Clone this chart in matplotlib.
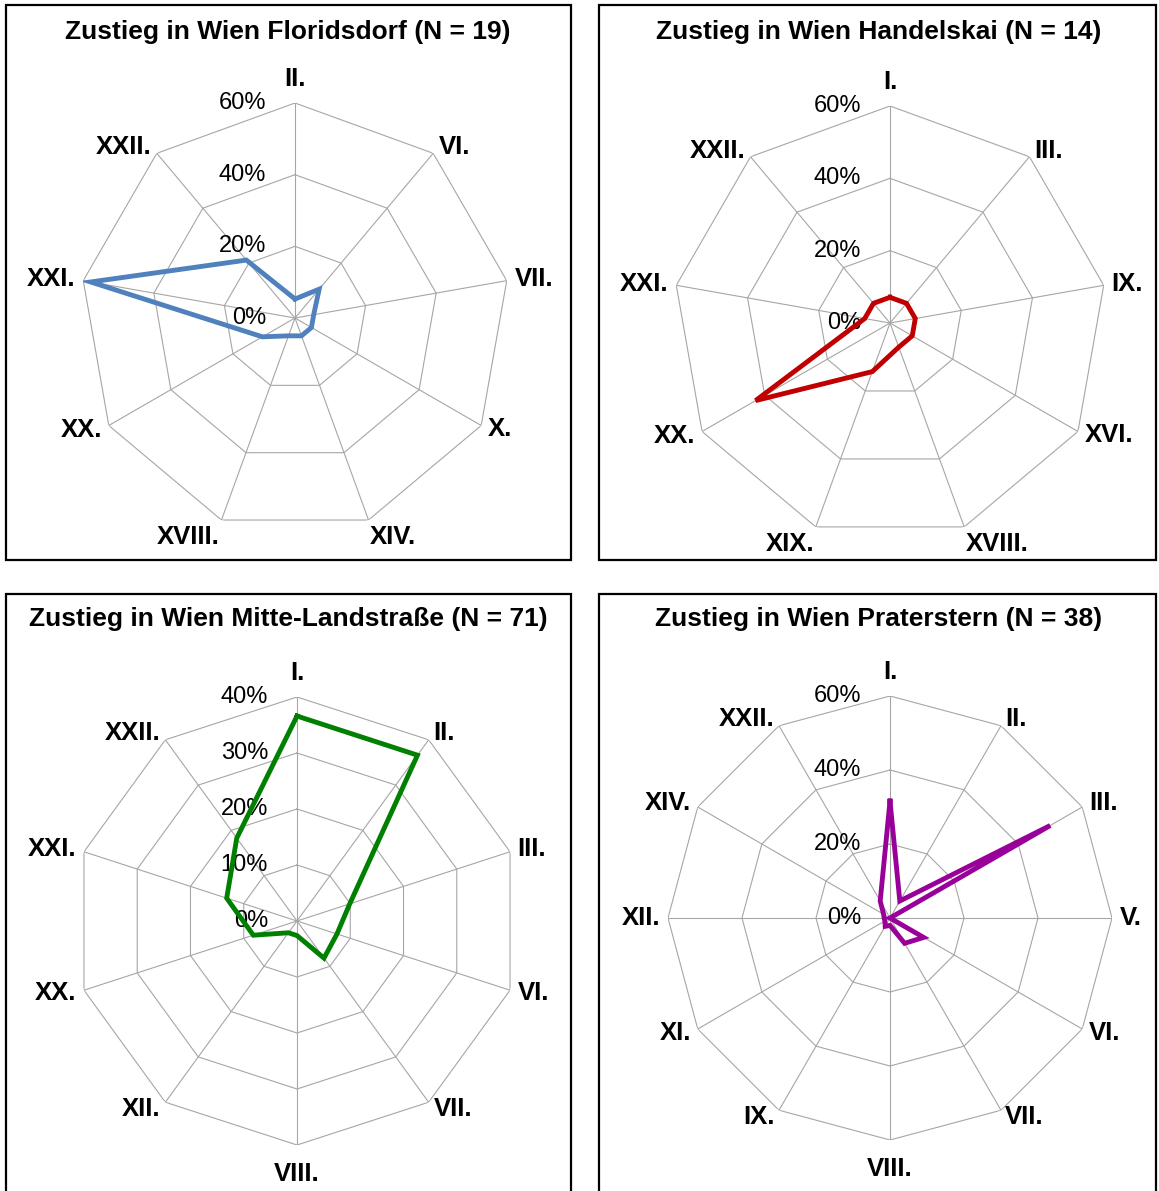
import numpy as np
import matplotlib
matplotlib.use("Agg")
import matplotlib.pyplot as plt
from matplotlib.patches import Rectangle

plt.rcParams["font.family"] = ["Liberation Sans", "DejaVu Sans"]

# ---- data (percent of respondents per district of residence) ----
floridsdorf_cats = ["II.", "VI.", "VII.", "X.", "XIV.", "XVIII.", "XX.", "XXI.", "XXII."]
floridsdorf_vals = [5.3, 10.5, 5.3, 5.3, 5.3, 5.3, 10.5, 57.9, 21.1]

handelskai_cats = ["I.", "III.", "IX.", "XVI.", "XVIII.", "XIX.", "XX.", "XXI.", "XXII."]
handelskai_vals = [7.1, 7.1, 7.1, 7.1, 7.1, 14.3, 42.9, 7.1, 7.1]

mitte_cats = ["I.", "II.", "III.", "VI.", "VII.", "VIII.", "XII.", "XX.", "XXI.", "XXII."]
mitte_vals = [36.6, 36.6, 9.9, 7.5, 8.2, 2.6, 2.6, 8.2, 13.2, 18.3]

prater_cats = ["I.", "II.", "III.", "V.", "VI.", "VII.", "VIII.", "IX.", "XI.", "XII.", "XIV.", "XXII."]
prater_vals = [31.6, 5.3, 50.0, 0.0, 10.5, 7.9, 2.0, 2.6, 1.6, 1.6, 2.0, 5.3]

ticks_60 = [0, 20, 40, 60]
ticks_40 = [0, 10, 20, 30, 40]

titles = [
    "Zustieg in Wien Floridsdorf (N = 19)",
    "Zustieg in Wien Handelskai (N = 14)",
    "Zustieg in Wien Mitte-Landstraße (N = 71)",
    "Zustieg in Wien Praterstern (N = 38)",
]

W, H = 1159, 1191
DPI = 100
PX = 72.0 / DPI  # points per pixel

fig = plt.figure(figsize=(W / DPI, H / DPI), dpi=DPI)
fig.patch.set_facecolor("white")

GRID = "#a6a6a6"


def box(x0, y0, x1, y1):
    fig.add_artist(Rectangle((x0 / W, 1 - y1 / H), (x1 - x0) / W, (y1 - y0) / H,
                             transform=fig.transFigure, fill=False,
                             edgecolor="black", linewidth=1.6))


def radar(cx, cy, R, cats, vals, ticks, color, title, title_xy):
    ax = fig.add_axes([(cx - R) / W, 1 - (cy + R) / H, 2 * R / W, 2 * R / H],
                      projection="polar")
    ax.set_theta_zero_location("N")
    ax.set_theta_direction(-1)
    ax.patch.set_alpha(0)
    ax.grid(False)
    ax.spines["polar"].set_visible(False)
    ax.set_xticks([])
    ax.set_yticks([])
    rmax = ticks[-1]
    ax.set_ylim(0, rmax)

    n = len(cats)
    ang = np.arange(n) * 2 * np.pi / n
    ang_c = np.append(ang, ang[0])

    # polygon rings and spokes
    for t in ticks[1:]:
        ax.plot(ang_c, [t] * (n + 1), color=GRID, lw=0.8, zorder=1)
    for a in ang:
        ax.plot([a, a], [0, rmax], color=GRID, lw=0.8, zorder=1)

    # data line
    v = list(vals) + [vals[0]]
    ax.plot(ang_c, v, color=color, lw=3.5, zorder=3, solid_joinstyle="miter")

    # radial value labels, left of the first spoke
    for t in ticks:
        ax.annotate(f"{t}%", xy=(0, t), xytext=(-29 * PX, 0),
                    textcoords="offset points", ha="right", va="center",
                    fontsize=17, annotation_clip=False, zorder=2)

    # category labels
    for a, c in zip(ang, cats):
        phi = np.pi / 2 - a
        co, si = np.cos(phi), np.sin(phi)
        if abs(co) < 0.05:
            ha = "center"
            va = "bottom" if si > 0 else "top"
            d = 12 if si > 0 else 17
        else:
            ha = "left" if co > 0 else "right"
            if abs(si) > 0.9:
                va = "bottom" if si > 0 else "top"
                d = 5
            else:
                va = "center"
                d = 8
        ax.annotate(c, xy=(a, rmax), xytext=(d * co * PX, d * si * PX),
                    textcoords="offset points", ha=ha, va=va,
                    fontsize=18.5, fontweight="bold", annotation_clip=False)

    fig.text(title_xy[0] / W, 1 - title_xy[1] / H, title, ha="center", va="center",
             fontsize=19, fontweight="bold")


box(6, 5, 571, 560)
box(599, 5, 1156, 560)
box(6, 594, 571, 1200)
box(599, 594, 1156, 1200)

radar(295, 318, 215, floridsdorf_cats, floridsdorf_vals, ticks_60, "#4F81BD",
      titles[0], (288, 32))
radar(890, 323, 217, handelskai_cats, handelskai_vals, ticks_60, "#C00000",
      titles[1], (879, 32))
radar(297, 921, 224, mitte_cats, mitte_vals, ticks_40, "#008000",
      titles[2], (288, 619))
radar(890, 918, 222, prater_cats, prater_vals, ticks_60, "#990099",
      titles[3], (879, 619))

fig.savefig("out.png", dpi=DPI)
